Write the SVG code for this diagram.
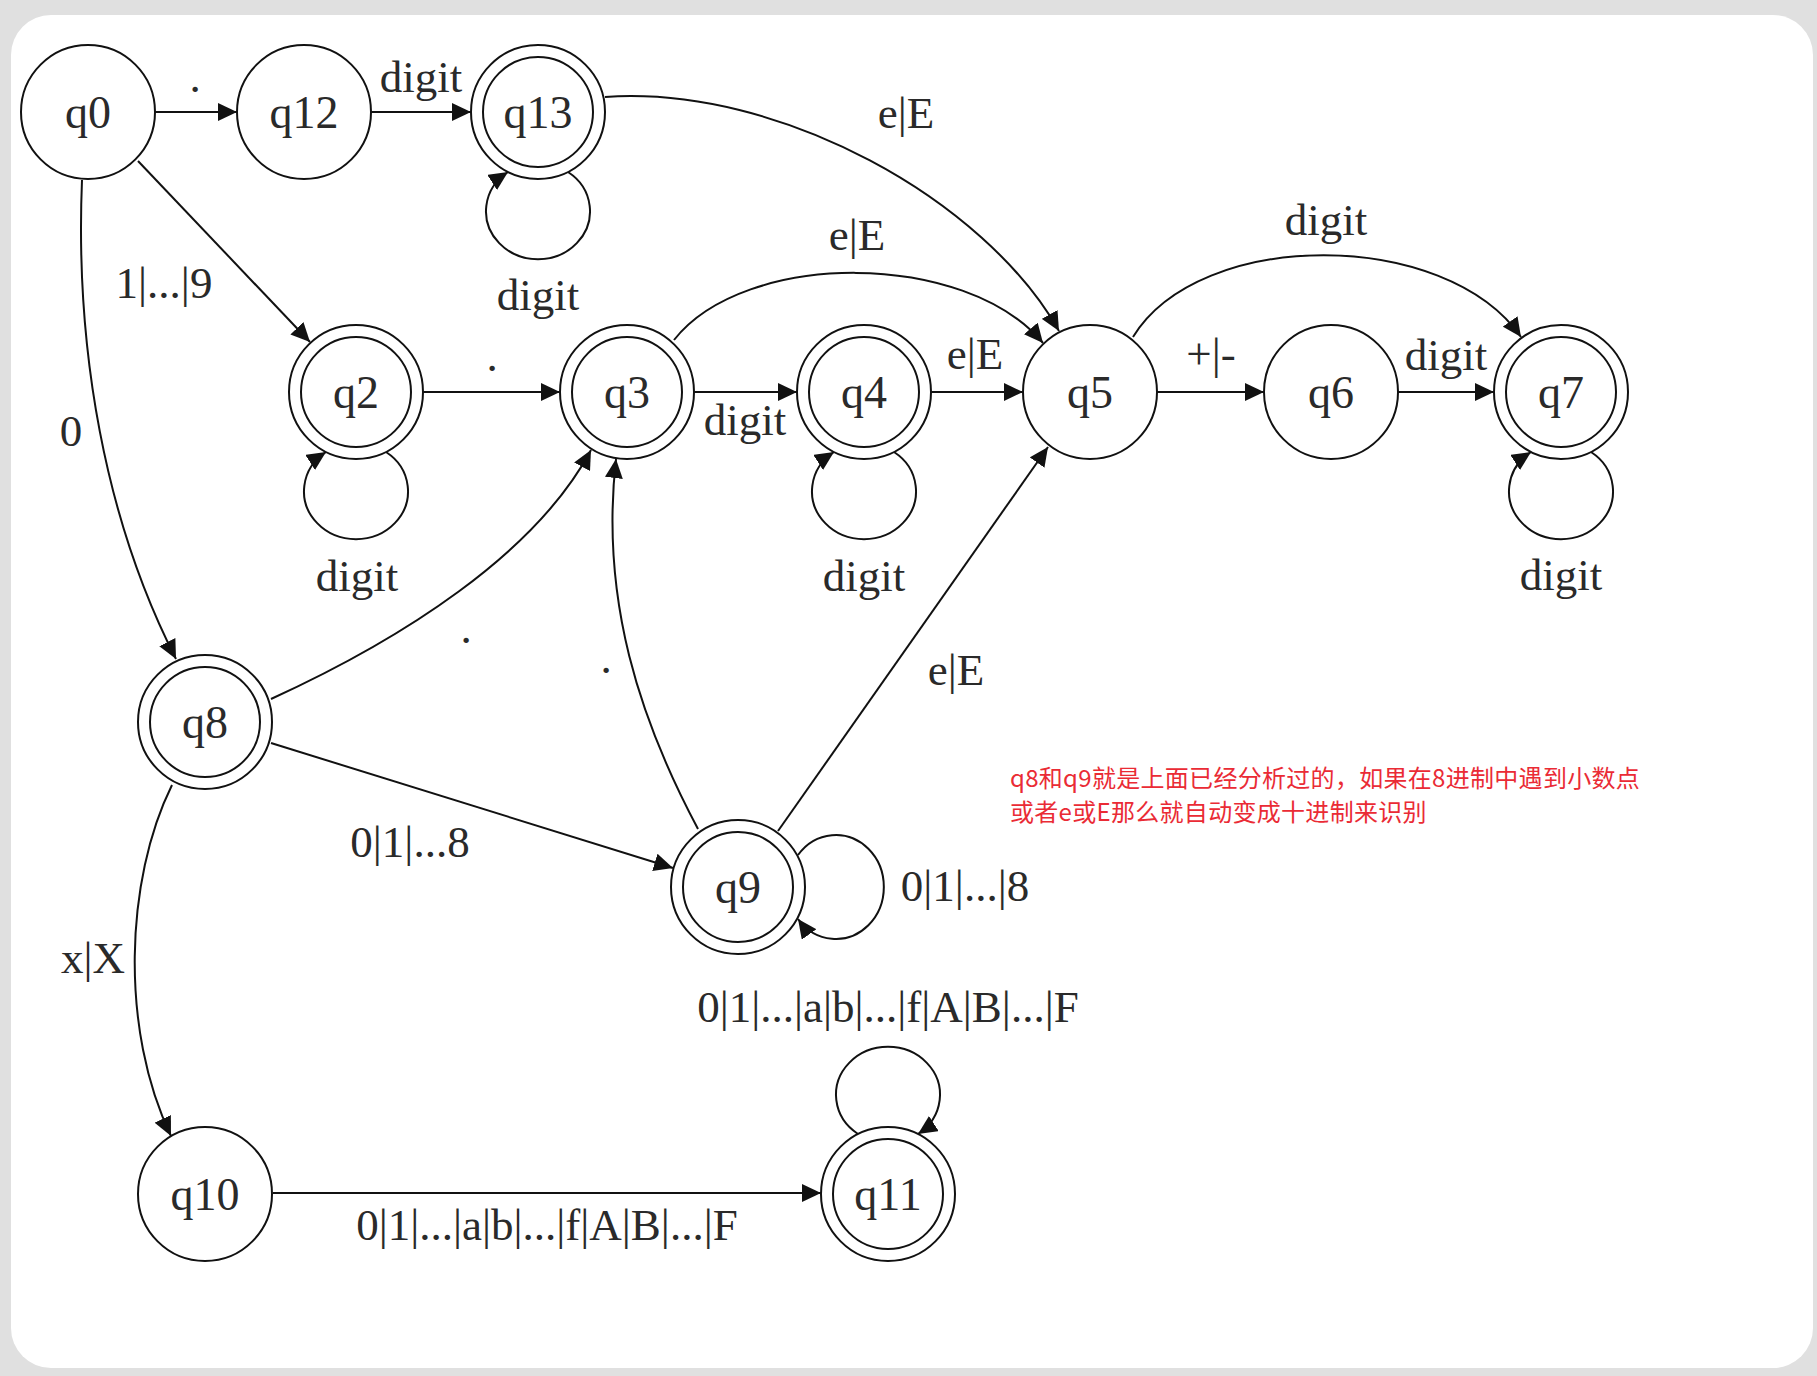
<svg xmlns="http://www.w3.org/2000/svg" width="1817" height="1376" viewBox="0 0 1817 1376">
<style>
.st{fill:#fff;stroke:#111;stroke-width:2}
.nl{font-family:"Liberation Serif","Times New Roman",serif;font-size:46px;fill:#2a2a2a;text-anchor:middle}
.el{font-family:"Liberation Serif","Times New Roman",serif;font-size:45px;fill:#2a2a2a;text-anchor:middle}
.e{fill:none;stroke:#111;stroke-width:2;marker-end:url(#ah)}
.note{font-family:"Noto Sans CJK SC","Microsoft YaHei",sans-serif;font-size:24px;letter-spacing:0.3px;fill:#ea2b35}
</style>
<defs>
<marker id="ah" markerUnits="userSpaceOnUse" markerWidth="19" markerHeight="18" refX="19" refY="9" orient="auto">
<path d="M0,0 L19,9 L0,18 z" fill="#111"/>
</marker>
</defs>
<rect x="0" y="0" width="1817" height="1376" fill="#e0e0e0"/>
<rect x="11" y="15" width="1802" height="1353" rx="40" ry="40" fill="#fff"/>

<g id="connectors">
<g id="e-q0-q12"><path class="e" d="M155 112 L237 112"/><text class="el" x="195" y="92">.</text></g>
<g id="e-q12-q13"><path class="e" d="M371 112 L471 112"/><text class="el" x="421" y="92">digit</text></g>
<g id="e-q13-q13"><path class="e" d="M568 172 A52 48 0 1 1 508 172"/><text class="el" x="538" y="310">digit</text></g>
<g id="e-q13-q5"><path class="e" d="M605 97 C780 85 985 200 1059 331"/><text class="el" x="906" y="128">e|E</text></g>
<g id="e-q0-q2"><path class="e" d="M138 161 L310 342"/><text class="el" x="164" y="298">1|...|9</text></g>
<g id="e-q0-q8"><path class="e" d="M82 180 C75 350 105 520 176 659"/><text class="el" x="71" y="446">0</text></g>
<g id="e-q2-q2"><path class="e" d="M386 452 A52 48 0 1 1 326 452"/><text class="el" x="357" y="591">digit</text></g>
<g id="e-q2-q3"><path class="e" d="M423 392 L560 392"/><text class="el" x="492" y="371">.</text></g>
<g id="e-q3-q4"><path class="e" d="M694 392 L797 392"/><text class="el" x="745" y="435">digit</text></g>
<g id="e-q3-q5"><path class="e" d="M674 340 C745 250 965 250 1043 343"/><text class="el" x="857" y="250">e|E</text></g>
<g id="e-q4-q5"><path class="e" d="M931 392 L1023 392"/><text class="el" x="975" y="369">e|E</text></g>
<g id="e-q4-q4"><path class="e" d="M894 452 A52 48 0 1 1 834 452"/><text class="el" x="864" y="591">digit</text></g>
<g id="e-q5-q6"><path class="e" d="M1157 392 L1264 392"/><text class="el" x="1211" y="369">+|-</text></g>
<g id="e-q6-q7"><path class="e" d="M1398 392 L1494 392"/><text class="el" x="1446" y="370">digit</text></g>
<g id="e-q5-q7"><path class="e" d="M1133 337 C1200 228 1445 228 1521 337"/><text class="el" x="1326" y="235">digit</text></g>
<g id="e-q7-q7"><path class="e" d="M1591 452 A52 48 0 1 1 1531 452"/><text class="el" x="1561" y="590">digit</text></g>
<g id="e-q8-q3"><path class="e" d="M271 699 C400 640 535 555 591 450"/><text class="el" x="466" y="643">.</text></g>
<g id="e-q9-q3"><path class="e" d="M698 829 C640 720 600 600 616 459"/><text class="el" x="606" y="673">.</text></g>
<g id="e-q9-q5"><path class="e" d="M778 831 L1048 447"/><text class="el" x="956" y="685">e|E</text></g>
<g id="e-q8-q9"><path class="e" d="M271 743 L673 868"/><text class="el" x="410" y="857">0|1|...8</text></g>
<g id="e-q9-q9"><path class="e" d="M798 855 A48 52 0 1 1 798 919"/><text class="el" x="965" y="901">0|1|...|8</text></g>
<g id="e-q8-q10"><path class="e" d="M172 785 C125 880 120 1030 171 1136"/><text class="el" x="93" y="973">x|X</text></g>
<g id="e-q10-q11"><path class="e" d="M273 1193 L821 1193"/><text class="el" x="547" y="1240">0|1|...|a|b|...|f|A|B|...|F</text></g>
<g id="e-q11-q11"><path class="e" d="M858 1134 A52 48 0 1 1 918 1134"/><text class="el" x="888" y="1022">0|1|...|a|b|...|f|A|B|...|F</text></g>
</g>

<g id="q0"><circle class="st" cx="88" cy="112" r="67"/><text class="nl" x="88" y="128">q0</text></g>
<g id="q12"><circle class="st" cx="304" cy="112" r="67"/><text class="nl" x="304" y="128">q12</text></g>
<g id="q13"><circle class="st" cx="538" cy="112" r="67"/><circle class="st" cx="538" cy="112" r="55"/><text class="nl" x="538" y="128">q13</text></g>
<g id="q2"><circle class="st" cx="356" cy="392" r="67"/><circle class="st" cx="356" cy="392" r="55"/><text class="nl" x="356" y="408">q2</text></g>
<g id="q3"><circle class="st" cx="627" cy="392" r="67"/><circle class="st" cx="627" cy="392" r="55"/><text class="nl" x="627" y="408">q3</text></g>
<g id="q4"><circle class="st" cx="864" cy="392" r="67"/><circle class="st" cx="864" cy="392" r="55"/><text class="nl" x="864" y="408">q4</text></g>
<g id="q5"><circle class="st" cx="1090" cy="392" r="67"/><text class="nl" x="1090" y="408">q5</text></g>
<g id="q6"><circle class="st" cx="1331" cy="392" r="67"/><text class="nl" x="1331" y="408">q6</text></g>
<g id="q7"><circle class="st" cx="1561" cy="392" r="67"/><circle class="st" cx="1561" cy="392" r="55"/><text class="nl" x="1561" y="408">q7</text></g>
<g id="q8"><circle class="st" cx="205" cy="722" r="67"/><circle class="st" cx="205" cy="722" r="55"/><text class="nl" x="205" y="738">q8</text></g>
<g id="q9"><circle class="st" cx="738" cy="887" r="67"/><circle class="st" cx="738" cy="887" r="55"/><text class="nl" x="738" y="903">q9</text></g>
<g id="q10"><circle class="st" cx="205" cy="1194" r="67"/><text class="nl" x="205" y="1210">q10</text></g>
<g id="q11"><circle class="st" cx="888" cy="1194" r="67"/><circle class="st" cx="888" cy="1194" r="55"/><text class="nl" x="888" y="1210">q11</text></g>

<g id="note">
<text class="note" x="1010" y="787">q8和q9就是上面已经分析过的，如果在8进制中遇到小数点</text>
<text class="note" x="1010" y="821">或者e或E那么就自动变成十进制来识别</text>
</g>
</svg>
